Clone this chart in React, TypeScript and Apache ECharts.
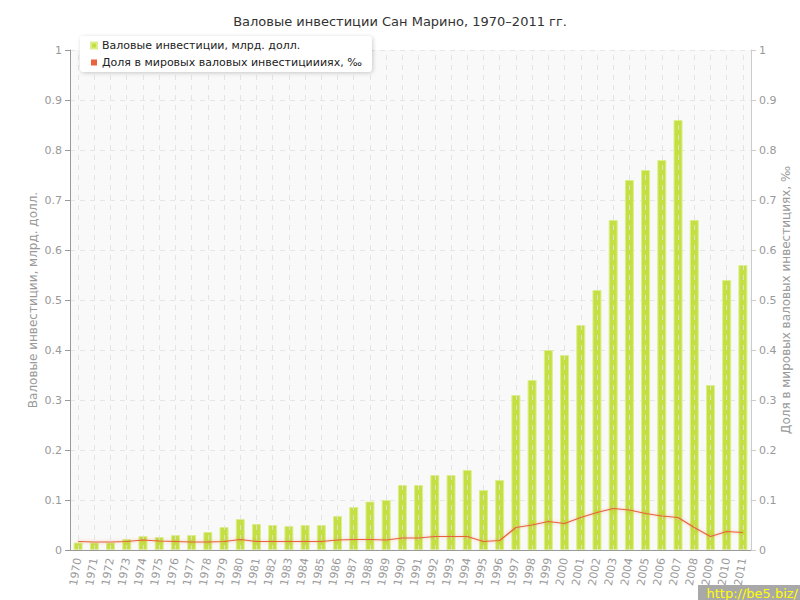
import React, { useEffect, useRef } from "react";
import * as echarts from "echarts";

const years = [
  "1970","1971","1972","1973","1974","1975","1976","1977","1978","1979",
  "1980","1981","1982","1983","1984","1985","1986","1987","1988","1989",
  "1990","1991","1992","1993","1994","1995","1996","1997","1998","1999",
  "2000","2001","2002","2003","2004","2005","2006","2007","2008","2009",
  "2010","2011",
];

const investments = [
  0.015, 0.015, 0.015, 0.022, 0.028, 0.026, 0.03, 0.03, 0.036, 0.046,
  0.062, 0.052, 0.05, 0.048, 0.05, 0.05, 0.068, 0.086, 0.097, 0.1,
  0.13, 0.13, 0.15, 0.15, 0.16, 0.12, 0.14, 0.31, 0.34, 0.4,
  0.39, 0.45, 0.52, 0.66, 0.74, 0.76, 0.78, 0.86, 0.66, 0.33,
  0.54, 0.57,
];

const worldShare = [
  0.017, 0.016, 0.016, 0.017, 0.02, 0.018, 0.017, 0.016, 0.016, 0.017,
  0.021, 0.017, 0.017, 0.017, 0.017, 0.017, 0.02, 0.021, 0.021, 0.02,
  0.024, 0.024, 0.027, 0.027, 0.027, 0.017, 0.019, 0.045, 0.05, 0.057,
  0.053, 0.065, 0.075, 0.083, 0.08, 0.073, 0.068, 0.065, 0.045, 0.027,
  0.037, 0.035,
];

const yTicks = ["0", "0.1", "0.2", "0.3", "0.4", "0.5", "0.6", "0.7", "0.8", "0.9", "1"];

const titleText = "Валовые инвестиции Сан Марино, 1970–2011 гг.";
const barName = "Валовые инвестиции, млрд. долл.";
const lineName = "Доля в мировых валовых инвестициииях, ‰";
const leftAxisName = "Валовые инвестиции, млрд. долл.";
const rightAxisName = "Доля в мировых валовых инвестициях, ‰";

const FONT = "DejaVu Sans, Verdana, sans-serif";

export default function App() {
  const ref = useRef<HTMLDivElement>(null);

  useEffect(() => {
    if (!ref.current) return;
    const chart = echarts.init(ref.current, undefined, { renderer: "svg" });

    const fmt = (v: number) => {
      const idx = Math.round(v * 10);
      return yTicks[idx] ?? String(v);
    };

    const yAxisCommon = {
      type: "value" as const,
      min: 0,
      max: 1,
      interval: 0.1,
      nameLocation: "middle" as const,
      nameMoveOverlap: false,
      nameTextStyle: { color: "#999", fontSize: 12, fontFamily: FONT },
      axisTick: { show: true, length: 5, lineStyle: { color: "#999" } },
      axisLabel: { color: "#999", fontSize: 11, fontFamily: FONT, formatter: fmt, margin: 8 },
    };

    chart.setOption({
      animation: false,
      backgroundColor: "#ffffff",
      textStyle: { fontFamily: FONT },
      title: {
        text: titleText,
        left: "center",
        top: 10,
        textStyle: { fontSize: 13, fontWeight: "normal", color: "#333", fontFamily: FONT },
      },
      legend: {
        left: 80,
        top: 36,
        orient: "vertical",
        icon: "rect",
        itemWidth: 6,
        itemHeight: 6,
        itemGap: 6,
        padding: [4, 10, 4, 10],
        backgroundColor: "#ffffff",
        borderRadius: 4,
        shadowColor: "rgba(0,0,0,0.2)",
        shadowBlur: 4,
        shadowOffsetX: 1,
        shadowOffsetY: 1,
        textStyle: { fontSize: 11, color: "#222", fontFamily: FONT },
        data: [barName, lineName],
      },
      grid: {
        left: 70,
        right: 49,
        top: 50,
        bottom: 50,
        outerBoundsMode: "none",
        containLabel: false,
        show: true,
        backgroundColor: "#f9f9f9",
        borderWidth: 0,
      },
      xAxis: {
        type: "category",
        data: years,
        boundaryGap: true,
        axisLine: { lineStyle: { color: "#999" } },
        axisTick: { alignWithLabel: true, length: 5, lineStyle: { color: "#999" } },
        axisLabel: { color: "#999", fontSize: 11, fontFamily: FONT, rotate: 80, interval: 0, margin: 8 },
        splitLine: { show: false },
      },
      yAxis: [
        {
          ...yAxisCommon,
          name: leftAxisName,
          nameGap: 31,
          position: "left",
          axisLine: { show: true, lineStyle: { color: "#999" } },
          splitLine: { show: true, lineStyle: { color: "#e6e6e6", type: [5, 5] } },
        },
        {
          ...yAxisCommon,
          name: rightAxisName,
          nameGap: 29,
          position: "right",
          axisLine: { show: true, lineStyle: { color: "#ccc" } },
          axisTick: { show: true, length: 5, lineStyle: { color: "#ccc" } },
          splitLine: { show: false },
        },
      ],
      series: [
        {
          name: barName,
          type: "bar",
          yAxisIndex: 0,
          data: investments,
          barWidth: 9,
          itemStyle: { color: "#c4df42", borderColor: "#dcee8c", borderWidth: 1 },
          markLine: {
            silent: true,
            symbol: "none",
            label: { show: false },
            lineStyle: { color: "rgba(225,225,225,0.85)", type: [5, 5], width: 1 },
            data: years.map((y) => ({ xAxis: y })),
            z: 3,
          },
        },
        {
          name: lineName,
          type: "line",
          yAxisIndex: 1,
          data: worldShare,
          symbol: "none",
          z: 5,
          itemStyle: { color: "#e8643a" },
          lineStyle: {
            color: "#e8643a",
            width: 1.2,
            shadowColor: "rgba(232,100,58,0.45)",
            shadowBlur: 3,
          },
        },
      ],
      graphic: [
        {
          type: "rect",
          right: 0,
          bottom: 0,
          shape: { width: 102, height: 15 },
          style: { fill: "#a8a8a8" },
          z: 100,
        },
        {
          type: "text",
          right: 2,
          bottom: 0,
          style: { text: "http://be5.biz/", fill: "#ffff00", fontSize: 13, fontFamily: FONT },
          z: 101,
        },
      ],
    });

    return () => chart.dispose();
  }, []);

  return <div ref={ref} style={{ width: 800, height: 600, position: "absolute", left: 0, top: 0 }} />;
}
